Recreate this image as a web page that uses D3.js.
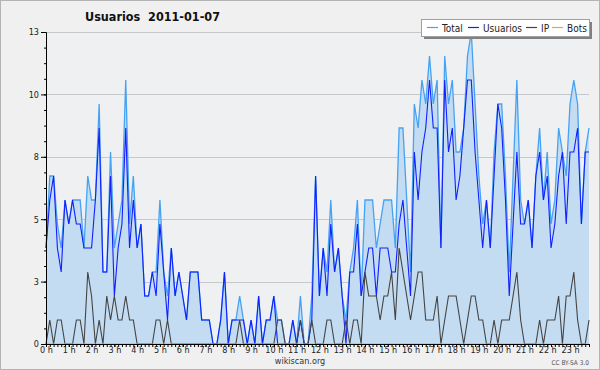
<!DOCTYPE html>
<html>
<head>
<meta charset="utf-8">
<script src="https://cdn.jsdelivr.net/npm/d3@7"></script>
<style>
  body { margin: 0; background: #fff; }
  text { font-family: "DejaVu Sans Condensed", "DejaVu Sans", sans-serif; }
</style>
</head>
<body>
<div id="chart"></div>
<script>
// one value every 10 minutes, 0:00 .. 23:50
var total = [
  4,7,7,5,4,6,5,6,6,6, 4,7,6,6,10,3,3,8,4,5, 6,11,5,7,4,5,2,2,3,3,
  6,3,2,4,2,3,2,1,3,3, 3,1,1,1,0,0,1,3,0,1, 1,2,1,0,1,0,2,0,1,1,
  2,1,1,0,0,1,0,2,0,0, 2,7,2,4,3,6,3,4,2,1, 3,4,6,2,6,6,6,4,5,6,
  6,6,4,9,9,6,3,10,9,11, 10,12,10,11,4,12,10,11,8,8, 9,12,13,10,7,5,6,4,8,10,
  10,7,3,7,11,6,5,6,4,7, 9,6,8,5,6,9,8,7,10,11, 10,5,8,9
];
var usuarios = [
  4,6,7,4,3,6,5,6,5,5, 4,4,4,6,9,3,3,7,2,4, 5,9,4,6,4,5,2,2,3,2,
  5,3,1,4,2,3,2,1,3,3, 3,1,1,1,0,0,1,3,0,1, 1,1,1,0,1,0,2,0,1,1,
  2,0,0,0,0,1,0,1,0,0, 1,7,2,4,2,5,3,4,2,0, 3,3,5,2,3,4,4,2,4,4,
  4,3,3,5,6,4,2,8,6,8, 9,11,9,9,4,11,8,9,6,7, 9,11,11,8,6,4,6,4,7,10,
  9,6,2,5,8,5,5,6,4,7, 8,6,7,4,5,7,8,5,8,8, 9,5,8,8
];
var ip = [
  0,1,0,1,1,0,0,0,1,1, 0,3,2,0,1,0,2,1,2,1, 1,2,1,1,0,0,0,0,0,1,
  1,0,1,0,0,0,0,0,0,0, 0,0,0,0,0,0,0,0,0,0, 0,1,0,0,0,0,0,0,0,0,
  0,1,1,0,0,0,0,1,0,0, 1,0,0,0,1,1,0,0,0,1, 0,1,1,0,3,2,2,2,1,2,
  2,3,1,4,3,2,1,2,3,3, 1,1,1,2,0,1,2,2,2,1, 0,1,2,2,1,1,0,0,1,0,
  1,1,1,2,3,1,0,0,0,0, 1,0,1,1,1,2,0,2,2,3, 1,0,0,1
];
var bots = [
  0,0,0,0,0,0,0,0,0,0, 0,0,0,0,0,0,0,0,0,0, 0,0,0,0,0,0,0,0,0,0,
  0,0,0,0,0,0,0,0,0,0, 0,0,0,0,0,0,0,0,0,0, 0,0,0,0,0,0,0,0,0,0,
  0,0,0,0,0,0,0,0,0,0, 0,0,0,0,0,0,0,0,0,0, 0,0,0,0,0,0,0,0,0,0,
  0,0,0,0,0,0,0,0,0,0, 0,0,0,0,0,0,0,0,0,0, 0,0,0,0,0,0,0,0,0,0,
  0,0,0,0,0,0,0,0,0,0, 0,0,0,0,0,0,0,0,0,0, 0,0,0,0
];
var hourLabels = ["0 h","1 h","2 h","3 h","4 h","5 h","6 h","7 h","8 h","9 h","10 h","11 h",
  "12 h","13 h","14 h","15 h","16 h","17 h","18 h","19 h","20 h","21 h","22 h","23 h"];
var yTicks = [0, 2.6, 5.2, 7.8, 10.4, 13];
var yLabels = ["0", "3", "5", "8", "10", "13"];
var seriesNames = ["Total", "Usuarios", "IP", "Bots"];
var seriesColors = ["#46a2f2", "#1020ff", "#444444", "#ffa020"];

var width = 600, height = 370;
var plotL = 46, plotR = 589, plotT = 32, plotB = 344;

var svg = d3.select("#chart").append("svg")
  .attr("width", width)
  .attr("height", height);

svg.append("rect")
  .attr("x", 0.5).attr("y", 0.5)
  .attr("width", width - 1).attr("height", height - 1)
  .attr("fill", "#f0f0f0")
  .attr("stroke", "#b4b4b4");

svg.append("rect")
  .attr("x", plotL).attr("y", plotT)
  .attr("width", plotR - plotL).attr("height", plotB - plotT)
  .attr("fill", "#eef0f2");

var x = d3.scaleLinear().domain([0, total.length - 1]).range([plotL, plotR]);
var y = d3.scaleLinear().domain([0, 13]).range([plotB, plotT]);

// horizontal grid
svg.append("g").selectAll("line")
  .data(yTicks.slice(1))
  .enter().append("line")
  .attr("x1", plotL).attr("x2", plotR)
  .attr("y1", function (d) { return Math.round(y(d)) + 0.5; })
  .attr("y2", function (d) { return Math.round(y(d)) + 0.5; })
  .attr("stroke", "#c8c8cc");

// area under total
var area = d3.area()
  .x(function (d, i) { return x(i); })
  .y0(y(0))
  .y1(function (d) { return y(d); });

svg.append("path")
  .datum(total)
  .attr("d", area)
  .attr("fill", "#c4dcf1");

var line = d3.line()
  .x(function (d, i) { return x(i); })
  .y(function (d) { return y(d); });

[total, usuarios, ip, bots].forEach(function (s, k) {
  svg.append("path")
    .datum(s)
    .attr("d", line)
    .attr("fill", "none")
    .attr("stroke", seriesColors[k])
    .attr("stroke-width", k == 0 ? 1.3 : 1.1)
    .attr("stroke-linejoin", "miter");
});

// y axis: major + minor ticks
svg.append("g")
  .attr("transform", "translate(" + plotL + ",0)")
  .call(d3.axisLeft(y).tickValues(yTicks)
    .tickFormat(function (d, i) { return yLabels[i]; })
    .tickSize(5).tickSizeOuter(0).tickPadding(2));

svg.append("g")
  .attr("transform", "translate(" + plotL + ",0)")
  .call(d3.axisLeft(y).tickValues(d3.range(0, 13.01, 0.65))
    .tickFormat("").tickSize(2).tickSizeOuter(0));

// x axis: 10 minute ticks, hour labels
svg.append("g")
  .attr("transform", "translate(0," + plotB + ")")
  .call(d3.axisBottom(x).tickValues(d3.range(0, total.length))
    .tickFormat("").tickSize(3).tickSizeOuter(0));

svg.append("g")
  .attr("transform", "translate(0," + plotB + ")")
  .call(d3.axisBottom(x).tickValues(d3.range(0, total.length, 6))
    .tickFormat(function (d) { return hourLabels[d / 6]; })
    .tickSize(3).tickSizeOuter(0).tickPadding(0));

svg.selectAll(".domain").attr("stroke", "#000");
svg.selectAll(".tick line").attr("stroke", "#000");
svg.selectAll(".tick text")
  .attr("fill", "#222")
  .style("font-family", "'DejaVu Sans Condensed', 'DejaVu Sans', sans-serif")
  .style("font-size", "9px");

// title
svg.append("text")
  .attr("x", 85).attr("y", 21)
  .style("white-space", "pre")
  .style("font-size", "12.5px")
  .style("font-weight", "bold")
  .attr("fill", "#111")
  .text("Usuarios  2011-01-07");

// legend
var lg = svg.append("g");
lg.append("rect")
  .attr("x", 424).attr("y", 22).attr("width", 168).attr("height", 17)
  .attr("fill", "#808080");
lg.append("rect")
  .attr("x", 421.5).attr("y", 19.5).attr("width", 168).attr("height", 17)
  .attr("fill", "#fff").attr("stroke", "#a0a0a0");
var legendX = [427, 468, 526, 552];
seriesNames.forEach(function (name, k) {
  lg.append("line")
    .attr("x1", legendX[k]).attr("x2", legendX[k] + 11)
    .attr("y1", 27.5).attr("y2", 27.5)
    .attr("stroke", seriesColors[k]).attr("stroke-width", 1.2);
  lg.append("text")
    .attr("x", legendX[k] + 15).attr("y", 31.5)
    .style("font-size", "10px")
    .attr("fill", "#222")
    .text(name);
});

// footer
svg.append("text")
  .attr("x", 300).attr("y", 364)
  .attr("text-anchor", "middle")
  .style("font-size", "9px")
  .attr("fill", "#333")
  .text("wikiscan.org");

svg.append("text")
  .attr("x", 589).attr("y", 365)
  .attr("text-anchor", "end")
  .style("font-size", "6.5px")
  .attr("fill", "#555")
  .text("CC BY-SA 3.0");
</script>
</body>
</html>
